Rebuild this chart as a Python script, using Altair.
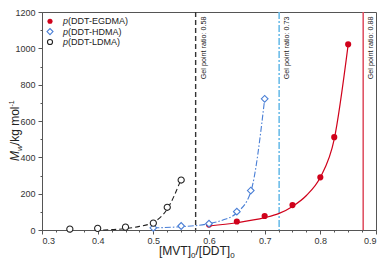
import altair as alt
import pandas as pd

# ---- data ----
egdma_x = [0.60, 0.65, 0.70, 0.75, 0.80, 0.825, 0.85]
egdma_y = [30, 47, 77, 137, 290, 511, 1022]
hdma_x = [0.50, 0.55, 0.60, 0.65, 0.675, 0.70]
hdma_y = [12, 22, 35, 101, 217, 722]
ldma_x = [0.35, 0.40, 0.45, 0.50, 0.525, 0.55]
ldma_y = [5, 9, 16, 38, 125, 275]

# fitted curves
egdma_fit_x = [0.60, 0.65, 0.70, 0.725, 0.75, 0.775, 0.80, 0.825, 0.85]
egdma_fit_y = [22, 40, 68, 90, 130, 190, 290, 500, 1020]
hdma_fit_x = [0.50, 0.55, 0.60, 0.625, 0.65, 0.675, 0.70]
hdma_fit_y = [12, 18, 35, 55, 95, 210, 720]
ldma_fit_x = [0.41, 0.45, 0.475, 0.50, 0.525, 0.55]
ldma_fit_y = [0, 8, 20, 42, 115, 280]

gel_x = [0.576, 0.726, 0.877]
gel_text = ["Gel point ratio: 0.58", "Gel point ratio: 0.73", "Gel point ratio: 0.88"]

x_ticks = [round(0.3 + 0.025 * i, 3) for i in range(25)]
y_ticks = [100 * i for i in range(13)]

FONT = "Liberation Sans"
RED = "#d0021b"
BLUE = "#4a7fd6"
AXC = "#555555"

xs = alt.Scale(domain=[0.3, 0.9], nice=False, zero=False)
ys = alt.Scale(domain=[0, 1200], nice=False)

MAJX = "abs(datum.value*10 - round(datum.value*10)) < 0.001"
x_axis = alt.Axis(
    values=x_ticks, title=None, grid=False, labelOverlap=False,
    labelExpr=MAJX + " ? format(datum.value, '.1f') : ''",
    tickSize={"condition": {"test": MAJX, "value": 4}, "value": 2},
    labelFont=FONT, labelFontSize=9, labelColor="#333", labelPadding=2,
    domainColor=AXC, tickColor=AXC,
)
y_axis = alt.Axis(
    values=y_ticks, title=None, grid=False, labelOverlap=False,
    labelExpr="datum.value % 200 === 0 ? format(datum.value, 'd') : ''",
    tickSize={"condition": {"test": "datum.value % 200 === 0", "value": 4}, "value": 2},
    labelFont=FONT, labelFontSize=9, labelColor="#333", labelPadding=3,
    domainColor=AXC, tickColor=AXC,
)

def df(x, y):
    return pd.DataFrame({"x": x, "y": y})

gel_df = pd.DataFrame({"x": gel_x, "t": gel_text})

X = alt.X("x:Q", scale=xs, axis=x_axis)
Y = alt.Y("y:Q", scale=ys, axis=y_axis)

rule_black = alt.Chart(gel_df.iloc[[0]]).mark_rule(color="#333333", strokeWidth=1.4, strokeDash=[5, 3]).encode(x=X)
rule_blue = alt.Chart(gel_df.iloc[[1]]).mark_rule(color="#6dbde9", strokeWidth=1.6, strokeDash=[7, 2, 2, 2]).encode(x=X)
rule_red = alt.Chart(gel_df.iloc[[2]]).mark_rule(color="#e05566", strokeWidth=1.6).encode(x=X)

gel_labels = alt.Chart(gel_df).mark_text(
    angle=270, align="right", baseline="middle", font=FONT, fontSize=7.2, color="#222"
).encode(x=X, y=alt.value(4.5), xOffset=alt.value(8), text="t:N")

fit_red = alt.Chart(df(egdma_fit_x, egdma_fit_y)).mark_line(color=RED, strokeWidth=1.2, interpolate="monotone").encode(x=X, y=Y)
fit_blue = alt.Chart(df(hdma_fit_x, hdma_fit_y)).mark_line(color=BLUE, strokeWidth=1.1, strokeDash=[6, 2, 1.5, 2], interpolate="monotone").encode(x=X, y=Y)
fit_black = alt.Chart(df(ldma_fit_x, ldma_fit_y)).mark_line(color="#222", strokeWidth=1.1, strokeDash=[5, 3], interpolate="monotone").encode(x=X, y=Y)

pts_red = alt.Chart(df(egdma_x, egdma_y)).mark_point(shape="circle", filled=True, size=38, color=RED, opacity=1).encode(x=X, y=Y)
pts_blue = alt.Chart(df(hdma_x, hdma_y)).mark_point(shape="diamond", filled=True, fill="white", stroke=BLUE, strokeWidth=1.1, size=45, opacity=1).encode(x=X, y=Y)
pts_black = alt.Chart(df(ldma_x, ldma_y)).mark_point(shape="circle", filled=True, fill="white", stroke="#222", strokeWidth=1.1, size=38, opacity=1).encode(x=X, y=Y)

# ---- manual legend ----
leg_names = ["(DDT-EGDMA)", "(DDT-HDMA)", "(DDT-LDMA)"]
leg_y = [9.2, 19.6, 30.0]
leg_df = pd.DataFrame({"name": leg_names, "ly": leg_y})
LY = alt.Y("ly:Q", scale=None)
leg_sym_red = alt.Chart(leg_df.iloc[[0]]).mark_point(shape="circle", filled=True, size=26, color=RED, opacity=1).encode(x=alt.value(8), y=LY)
leg_sym_blue = alt.Chart(leg_df.iloc[[1]]).mark_point(shape="diamond", filled=True, fill="white", stroke=BLUE, strokeWidth=1.1, size=36, opacity=1).encode(x=alt.value(8), y=LY)
leg_sym_black = alt.Chart(leg_df.iloc[[2]]).mark_point(shape="circle", filled=True, fill="white", stroke="#222", strokeWidth=1.1, size=26, opacity=1).encode(x=alt.value(8), y=LY)
leg_p = alt.Chart(leg_df).mark_text(align="left", baseline="middle", font=FONT, fontSize=9, fontStyle="italic", color="#222").encode(x=alt.value(21), y=LY, text=alt.value("p"))
leg_txt = alt.Chart(leg_df).mark_text(align="left", baseline="middle", font=FONT, fontSize=9, color="#222").encode(x=alt.value(26), y=LY, text="name:N")

# ---- axis titles built from text pieces ----
def txt(s, x, y, size=12, style="normal", angle=0):
    return alt.Chart(pd.DataFrame({"s": [s]})).mark_text(
        align="left", baseline="alphabetic", font=FONT, fontSize=size, fontStyle=style,
        color="#222", angle=angle
    ).encode(x=alt.value(x), y=alt.value(y), text="s:N")

xt = [
    txt("[MVT]", 117, 243),
    txt("0", 149, 245.5, size=8),
    txt("/[DDT]", 153.5, 243),
    txt("0", 188.2, 245.5, size=8),
]
yt = [
    txt("M", -23.5, 149, style="italic", angle=270),
    txt("w", -20.5, 139, size=8, style="italic", angle=270),
    txt("/kg mol", -23.5, 133.2, angle=270),
    txt("-1", -28, 94.5, size=7, angle=270),
]

chart = alt.layer(
    rule_black, rule_blue, rule_red, gel_labels,
    fit_red, pts_red, fit_blue, pts_blue, fit_black, pts_black,
    leg_sym_red, leg_sym_blue, leg_sym_black, leg_p, leg_txt,
    *xt, *yt,
).properties(
    width=334, height=218,
    autosize=alt.AutoSizeParams(type="none"),
    padding={"left": 34, "top": 4, "right": 7, "bottom": 28},
).configure_view(stroke=AXC, strokeWidth=1)

chart.save("out.html", embed_options={"renderer": "svg", "actions": False})
